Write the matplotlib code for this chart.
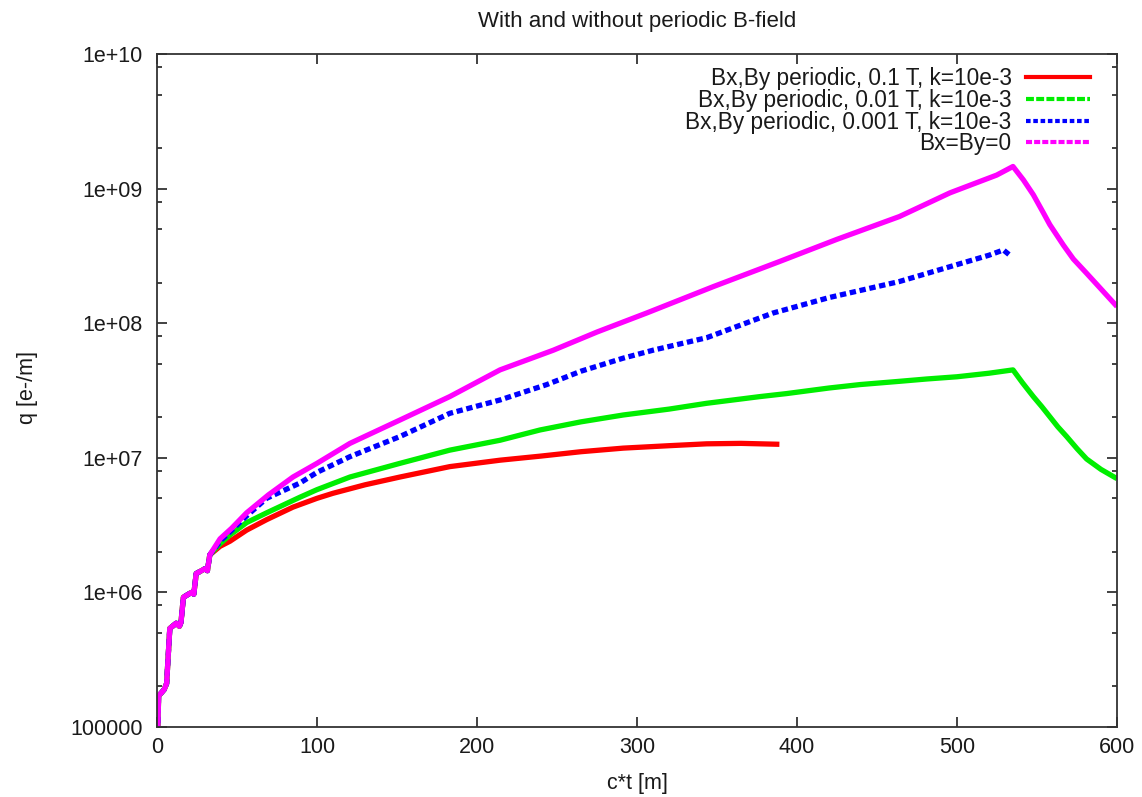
import matplotlib
matplotlib.use("Agg")
import matplotlib.pyplot as plt
from matplotlib.lines import Line2D
from matplotlib.ticker import FixedLocator, FixedFormatter, LogLocator, NullLocator

plt.rcParams['font.family'] = ['Liberation Sans', 'DejaVu Sans']

# ---------------- data ----------------
title = "With and without periodic B-field"
xlabel = "c*t [m]"
ylabel = "q [e-/m]"

labels = ["Bx,By periodic, 0.1 T, k=10e-3",
          "Bx,By periodic, 0.01 T, k=10e-3",
          "Bx,By periodic, 0.001 T, k=10e-3",
          "Bx=By=0"]
colors = ["#ff0000", "#00ee00", "#0000ff", "#ff00ff"]

# common staircase start (all four runs overlap here)
x_start = [0.5, 1.0, 4.5, 6.0, 8.0, 12.0, 14.0, 15.0, 16.5, 21.5, 23.0, 24.5, 30.0, 31.5, 33.0]
y_start = [0.9e5, 1.7e5, 1.9e5, 2.1e5, 5.4e5, 5.9e5, 5.6e5, 6.0e5, 9.2e5, 1.0e6, 0.97e6, 1.38e6,
           1.5e6, 1.45e6, 1.9e6]

x_red = [39.4, 45.6, 56, 68.5, 85, 100, 110, 130, 151.9, 183, 214.4, 240, 265, 291.4, 320, 343.5, 365, 389]
y_red = [2.2e6, 2.4e6, 2.9e6, 3.47e6, 4.3e6, 5.0e6, 5.45e6, 6.3e6, 7.2e6, 8.6e6, 9.6e6, 1.03e7,
         1.11e7, 1.18e7, 1.23e7, 1.27e7, 1.28e7, 1.26e7]

x_green = [39.4, 45.6, 56, 68.5, 89.4, 100, 120.6, 151.9, 183, 214.4, 239.4, 265, 291.4, 320, 343.5,
           376.9, 393.5, 420, 439.4, 464, 481, 500, 520, 535, 541, 547.7, 553, 558, 563, 568.5,
           575, 581, 590, 600]
y_green = [2.3e6, 2.67e6, 3.3e6, 3.9e6, 5.1e6, 5.8e6, 7.2e6, 9.1e6, 1.14e7, 1.35e7, 1.61e7, 1.85e7,
           2.08e7, 2.3e7, 2.54e7, 2.85e7, 3.0e7, 3.3e7, 3.5e7, 3.7e7, 3.85e7, 4.0e7, 4.25e7, 4.5e7,
           3.6e7, 2.85e7, 2.4e7, 2.02e7, 1.7e7, 1.44e7, 1.17e7, 9.8e6, 8.2e6, 7.0e6]

x_blue = [39.4, 46.7, 56, 68.5, 89.4, 100, 120.6, 151.9, 183, 214.4, 243.6, 265, 291.4, 310, 343.5,
          385, 420, 464, 495.6, 520, 529, 533]
y_blue = [2.4e6, 2.9e6, 3.7e6, 5.0e6, 6.5e6, 7.8e6, 1.02e7, 1.44e7, 2.14e7, 2.69e7, 3.5e7, 4.4e7,
          5.5e7, 6.3e7, 7.8e7, 1.19e8, 1.55e8, 2.04e8, 2.63e8, 3.2e8, 3.5e8, 3.2e8]

x_mag = [39.4, 46.7, 56, 69.6, 85, 100, 120.6, 151.9, 183, 214.4, 247.7, 275, 306, 347.7, 389, 425,
         464, 495.6, 524.8, 535, 541.5, 547.7, 554, 558, 566.5, 572.7, 581, 589, 600]
y_mag = [2.5e6, 3.0e6, 3.9e6, 5.3e6, 7.2e6, 9.1e6, 1.28e7, 1.91e7, 2.85e7, 4.5e7, 6.3e7, 8.6e7,
         1.19e8, 1.87e8, 2.87e8, 4.2e8, 6.2e8, 9.3e8, 1.26e9, 1.46e9, 1.16e9, 9.0e8, 6.6e8,
         5.4e8, 3.8e8, 3.0e8, 2.35e8, 1.85e8, 1.33e8]

x_ticks = [0, 100, 200, 300, 400, 500, 600]
y_ticks = [1e5, 1e6, 1e7, 1e8, 1e9, 1e10]
y_ticklabels = ["100000", "1e+06", "1e+07", "1e+08", "1e+09", "1e+10"]

# ---------------- figure ----------------
W, H = 1142, 797
fig = plt.figure(figsize=(W / 100, H / 100), dpi=100)
L, R, T, B = 157, 1117, 54, 727
ax = fig.add_axes([L / W, (H - B) / H, (R - L) / W, (B - T) / H])

series = [(x_red, y_red), (x_green, y_green), (x_blue, y_blue), (x_mag, y_mag)]
styles = [dict(ls='-'), dict(ls='-'), dict(dashes=(1.2, 0.7)), dict(ls='-')]
for (xs, ys), c, st in zip(series, colors, styles):
    ax.plot(x_start + xs, y_start + ys, color=c, lw=3.8, solid_joinstyle='round',
            solid_capstyle='butt', **st)

ax.set_yscale('log')
ax.set_xlim(0, 600)
ax.set_ylim(1e5, 1e10)

ax.xaxis.set_major_locator(FixedLocator(x_ticks))
ax.xaxis.set_minor_locator(NullLocator())
ax.yaxis.set_major_locator(FixedLocator(y_ticks))
ax.yaxis.set_major_formatter(FixedFormatter(y_ticklabels))
ax.yaxis.set_minor_locator(LogLocator(base=10, subs=(2.0, 5.0, 8.0)))
ax.yaxis.set_minor_formatter(plt.NullFormatter())

axcol = '#333333'
txtcol = '#1a1a1a'
for s in ax.spines.values():
    s.set_color(axcol)
    s.set_linewidth(1.3)
ax.tick_params(which='both', direction='in', top=True, right=True, color=axcol, width=1.3)
ax.tick_params(which='major', length=7.2)
ax.tick_params(which='minor', length=3.6)
ax.tick_params(axis='x', labelsize=15.5, pad=7, labelcolor=txtcol)
ax.tick_params(axis='y', labelsize=15.5, pad=10, labelcolor=txtcol)

fig.text(637 / W, 1 - 21 / H, title, ha='center', va='center', fontsize=16, color=txtcol)
fig.text(637 / W, 1 - 784 / H, xlabel, ha='center', va='center', fontsize=15.5, color=txtcol)
fig.text(27 / W, 1 - 388 / H, ylabel, ha='center', va='center', rotation=90, fontsize=15.5,
         color=txtcol)

handle_styles = [dict(ls='-'), dict(dashes=(1.9, 0.55)), dict(dashes=(1.1, 0.65)),
                 dict(dashes=(1.45, 0.5))]
handles = [Line2D([], [], color=c, lw=3.0, **st) for c, st in zip(colors, handle_styles)]
leg = ax.legend(handles, labels, loc='upper right', bbox_to_anchor=(0.972, 0.981),
                markerfirst=False, frameon=False, fontsize=16.3, handlelength=2.85,
                handletextpad=0.62, labelspacing=-0.05, borderpad=0.0, borderaxespad=0.0)
for t in leg.get_texts():
    t.set_color(txtcol)

fig.savefig("out.png", dpi=100)
